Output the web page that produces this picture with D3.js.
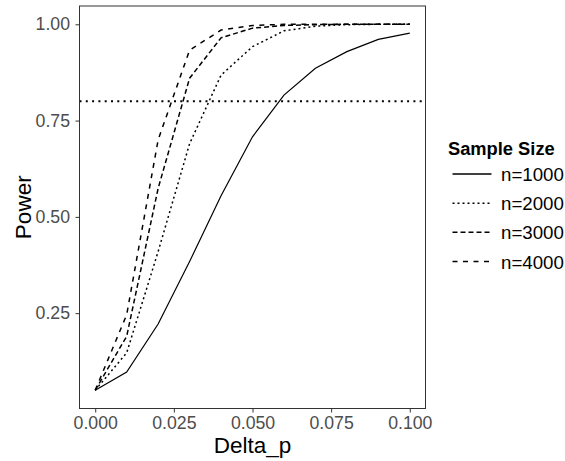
<!DOCTYPE html>
<html>
<head>
<meta charset="utf-8">
<script src="https://cdn.jsdelivr.net/npm/d3@7"></script>
<style>
  body { margin: 0; background: #fff; }
  text { font-family: "Liberation Sans", Arial, sans-serif; }
</style>
</head>
<body>
<div id="vis"></div>
<script>
// data
const deltas = [0, 0.01, 0.02, 0.03, 0.04, 0.05, 0.06, 0.07, 0.08, 0.09, 0.10]
const power1000 = [0.05, 0.097, 0.222, 0.384, 0.555, 0.708, 0.816, 0.886, 0.929, 0.961, 0.977]
const power2000 = [0.05, 0.147, 0.41, 0.69, 0.868, 0.942, 0.983, 0.995, 0.999, 1.0, 1.0]
const power3000 = [0.05, 0.19, 0.574, 0.86, 0.965, 0.99, 0.997, 0.999, 1.0, 1.0, 1.0]
const power4000 = [0.05, 0.246, 0.70, 0.933, 0.985, 0.997, 1.0, 1.0, 1.0, 1.0, 1.0]
const seriesNames = ["n=1000", "n=2000", "n=3000", "n=4000"]
const xTicks = [0, 0.025, 0.05, 0.075, 0.1]
const yTicks = [0.25, 0.5, 0.75, 1.0]
const targetPower = 0.8

const width = 565, height = 461
const panel = {left: 79.5, right: 425.5, top: 6, bottom: 408.5}

const svg = d3.select("#vis").append("svg")
  .attr("width", width)
  .attr("height", height)

// ggplot style 5% expansion
const x = d3.scaleLinear().domain([-0.005, 0.105]).range([panel.left, panel.right])
const y = d3.scaleLinear().domain([0.0025, 1.0475]).range([panel.bottom, panel.top])

const series = [power1000, power2000, power3000, power4000]
const dashes = [null, "2,3", "5,3", "5,5.5"]

const line = d3.line()
  .x((d, i) => x(deltas[i]))
  .y(d => y(d))

const plot = svg.append("g")

series.forEach((s, k) => {
  plot.append("path")
    .datum(s)
    .attr("d", line)
    .attr("fill", "none")
    .attr("stroke", "black")
    .attr("stroke-width", k == 0 ? 1.2 : 1.5)
    .attr("stroke-dasharray", dashes[k])
})

// target power line
plot.append("line")
  .attr("x1", panel.left).attr("x2", panel.right)
  .attr("y1", y(targetPower)).attr("y2", y(targetPower))
  .attr("stroke", "black")
  .attr("stroke-width", 2)
  .attr("stroke-dasharray", "2,4.3")

// panel border
svg.append("rect")
  .attr("x", panel.left).attr("y", panel.top)
  .attr("width", panel.right - panel.left).attr("height", panel.bottom - panel.top)
  .attr("fill", "none")
  .attr("stroke", "#333")
  .attr("stroke-width", 1)

// axes
const xAxis = svg.append("g")
  .attr("transform", `translate(0,${panel.bottom})`)
  .call(d3.axisBottom(x).tickValues(xTicks).tickFormat(d3.format(".3f")).tickSize(4).tickPadding(4))
const yAxis = svg.append("g")
  .attr("transform", `translate(${panel.left},0)`)
  .call(d3.axisLeft(y).tickValues(yTicks).tickFormat(d3.format(".2f")).tickSize(4).tickPadding(5.5))

;[xAxis, yAxis].forEach(a => {
  a.select(".domain").remove()
  a.selectAll(".tick line").attr("stroke", "#333")
  a.selectAll(".tick text")
    .attr("fill", "#4d4d4d")
    .style("font-size", "17.7px")
})

svg.append("text")
  .attr("x", (panel.left + panel.right) / 2)
  .attr("y", 453)
  .attr("text-anchor", "middle")
  .style("font-size", "22.5px")
  .text("Delta_p")

svg.append("text")
  .attr("transform", `translate(31,${(panel.top + panel.bottom) / 2}) rotate(-90)`)
  .attr("text-anchor", "middle")
  .style("font-size", "22.5px")
  .text("Power")

// legend
const legend = svg.append("g")
legend.append("text")
  .attr("x", 448)
  .attr("y", 154.5)
  .style("font-size", "18.3px")
  .style("font-weight", "bold")
  .text("Sample Size")

const keyY = d3.scalePoint().domain(seriesNames).range([174, 261.5])

seriesNames.forEach((name, k) => {
  legend.append("line")
    .attr("x1", 452.5).attr("x2", 491.5)
    .attr("y1", keyY(name)).attr("y2", keyY(name))
    .attr("stroke", "black")
    .attr("stroke-width", 1.5)
    .attr("stroke-dasharray", dashes[k])
  legend.append("text")
    .attr("x", 501)
    .attr("y", keyY(name) + 7)
    .style("font-size", "18.7px")
    .text(name)
})
</script>
</body>
</html>
